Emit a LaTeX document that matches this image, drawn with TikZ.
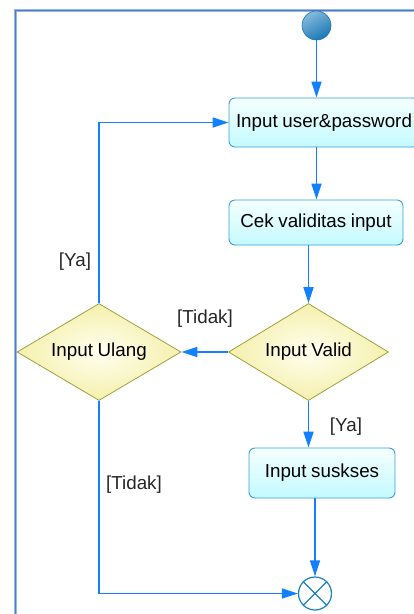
\documentclass[tikz,border=0pt]{standalone}
\usepackage{fontspec}
\setmainfont{Liberation Sans}
\usetikzlibrary{shapes.geometric,arrows.meta,calc}
\newcommand{\diagfont}{\fontsize{18.8}{22}\selectfont\fontdimen2\font=4.6pt\relax}
\definecolor{flow}{RGB}{18,128,255}
\definecolor{boxborder}{RGB}{60,160,215}
\definecolor{boxtop}{RGB}{245,255,255}
\definecolor{boxbot}{RGB}{195,250,255}
\definecolor{dborder}{RGB}{160,160,60}
\definecolor{dinner}{RGB}{255,255,240}
\definecolor{douter}{RGB}{245,240,172}
\definecolor{frameout}{RGB}{150,180,230}
\definecolor{framein}{RGB}{80,125,200}
\definecolor{startlight}{RGB}{135,185,220}
\definecolor{startdark}{RGB}{25,120,180}
\definecolor{enddark}{RGB}{25,130,195}
\begin{document}
\begin{tikzpicture}[x=1pt,y=1pt,font=\diagfont,
  flowarrow/.style={draw=flow,line width=1.6pt,-{Triangle[length=16pt,width=10pt]}},
  actbox/.style={draw=boxborder,line width=0.9pt,rounded corners=6pt,top color=boxtop,bottom color=boxbot,inner sep=0pt,align=center},
  decision/.style={diamond,aspect=1.65,draw=dborder,line width=0.8pt,shading=radial,inner color=dinner,outer color=douter,inner sep=0pt,minimum width=160pt,minimum height=97pt},
  guard/.style={inner sep=0pt,text=black!85}
]
\useasboundingbox (0,0) rectangle (414,-614);
% frame
\draw[frameout,line width=3pt] (15,-620) -- (15,-10) -- (420,-10);
\draw[framein,line width=1pt] (15,-620) -- (15,-10) -- (420,-10);
% nodes
\node[circle,draw=startdark,line width=0.6pt,minimum size=29pt,inner sep=0pt,shading=axis,top color=startlight,bottom color=startdark,shading angle=30] (start) at (316.5,-25.5) {};
\node[actbox,minimum width=190pt,minimum height=49pt] (box1) at (324,-122.5) {Input user\&password};
\node[actbox,minimum width=174pt,minimum height=45pt] (box2) at (316,-222.5) {Cek validitas input};
\node[decision] (valid) at (308.5,-352) {Input Valid};
\node[decision,minimum width=164pt] (ulang) at (99,-352) {Input Ulang};
\node[actbox,minimum width=146pt,minimum height=50pt] (box3) at (322,-473) {Input suskses};
\node[circle,draw=enddark,line width=1.2pt,minimum size=33pt,inner sep=0pt,fill=white] (end) at (315,-593.5) {};
\draw[enddark,line width=1.2pt] (end.north west) -- (end.south east) (end.north east) -- (end.south west);
% guards
\node[guard] (g1) at (75,-262) {[Ya]};
\node[guard] (g2) at (205,-319) {[Tidak]};
\node[guard] (g3) at (346,-427) {[Ya]};
\node[guard] (g4) at (134,-485) {[Tidak]};
% connectors
\draw[flowarrow] (start.south) -- (start.south |- box1.north);
\draw[flowarrow] (box1.south -| start) -- (box2.north -| start);
\draw[flowarrow] (box2.south -| valid) -- (valid.north);
\draw[flowarrow] (valid.west) -- (ulang.east);
\draw[flowarrow] (ulang.north) |- (box1.west);
\draw[flowarrow] (valid.south) -- (box3.north -| valid);
\draw[flowarrow] (box3.south -| end) -- (end.north);
\draw[flowarrow] (ulang.south) |- (end.west);
\end{tikzpicture}
\end{document}
